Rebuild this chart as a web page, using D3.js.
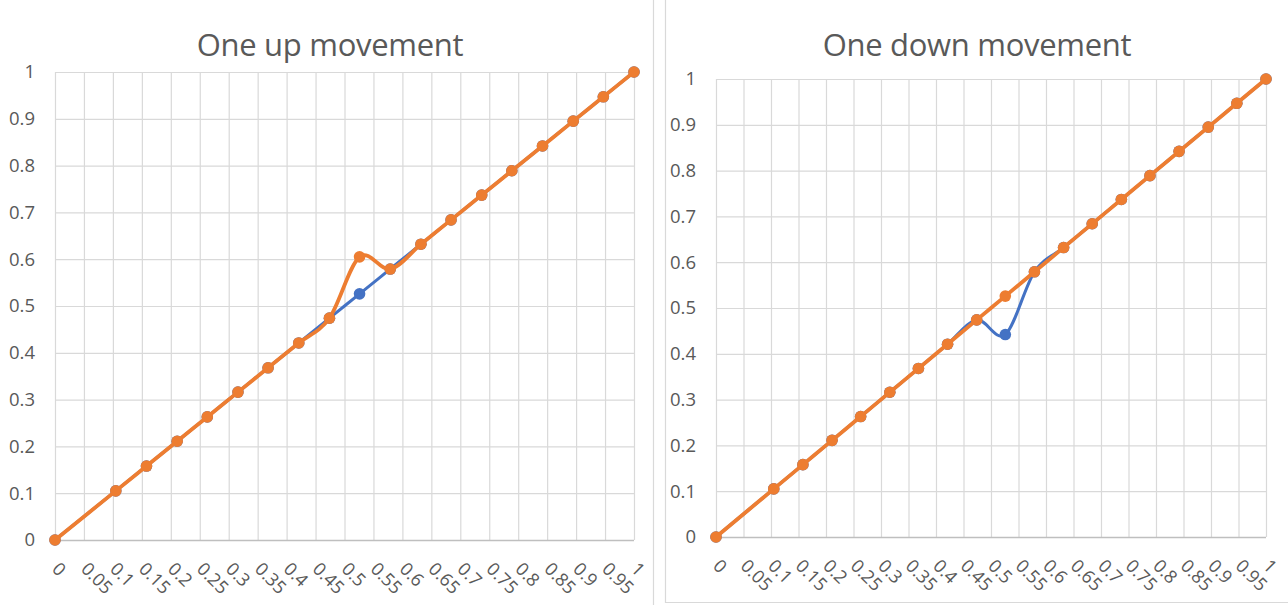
<!DOCTYPE html>
<html>
<head>
<meta charset="utf-8">
<script src="https://cdn.jsdelivr.net/npm/d3@7/dist/d3.min.js"></script>
<style>
  html, body { margin: 0; padding: 0; background: #fff; }
  svg { display: block; }
  text { font-family: "Open Sans", "Noto Sans", sans-serif; fill: #595959; }
</style>
</head>
<body>
<svg id="chart" width="1288" height="605"></svg>
<script>
// Shared x positions of the points (fractions of the interval)
const xValues = [0, 0.105, 0.158, 0.211, 0.263, 0.316, 0.368, 0.421, 0.474, 0.526,
                 0.579, 0.632, 0.684, 0.737, 0.789, 0.842, 0.895, 0.947, 1];

// "One up movement": blue is the unchanged path, orange has one step up
const upBlue   = [0, 0.105, 0.158, 0.211, 0.263, 0.316, 0.368, 0.421, 0.474, 0.526,
                  0.579, 0.632, 0.684, 0.737, 0.789, 0.842, 0.895, 0.947, 1];
const upOrange = [0, 0.105, 0.158, 0.211, 0.263, 0.316, 0.368, 0.421, 0.474, 0.605,
                  0.579, 0.632, 0.684, 0.737, 0.789, 0.842, 0.895, 0.947, 1];

// "One down movement": blue has one step down, orange is unchanged
const downBlue   = [0, 0.105, 0.158, 0.211, 0.263, 0.316, 0.368, 0.421, 0.474, 0.442,
                    0.579, 0.632, 0.684, 0.737, 0.789, 0.842, 0.895, 0.947, 1];
const downOrange = [0, 0.105, 0.158, 0.211, 0.263, 0.316, 0.368, 0.421, 0.474, 0.526,
                    0.579, 0.632, 0.684, 0.737, 0.789, 0.842, 0.895, 0.947, 1];

// Axis tick values and labels
const xTicks = [0, 0.05, 0.1, 0.15, 0.2, 0.25, 0.3, 0.35, 0.4, 0.45, 0.5,
                0.55, 0.6, 0.65, 0.7, 0.75, 0.8, 0.85, 0.9, 0.95, 1];
const xTickLabels = ["0", "0.05", "0.1", "0.15", "0.2", "0.25", "0.3", "0.35", "0.4", "0.45", "0.5",
                     "0.55", "0.6", "0.65", "0.7", "0.75", "0.8", "0.85", "0.9", "0.95", "1"];
const yTicks = [0, 0.1, 0.2, 0.3, 0.4, 0.5, 0.6, 0.7, 0.8, 0.9, 1];
const yTickLabels = ["0", "0.1", "0.2", "0.3", "0.4", "0.5", "0.6", "0.7", "0.8", "0.9", "1"];

const titles = ["One up movement", "One down movement"];

const BLUE = "#4472C4";
const ORANGE = "#ED7D31";
const GRID = "#d9d9d9";

const svg = d3.select("#chart");

// Panel frames
svg.append("line").attr("x1", 653.5).attr("x2", 653.5).attr("y1", 0).attr("y2", 605)
  .attr("stroke", GRID).attr("stroke-width", 1.2);
svg.append("path").attr("d", "M665.5,0 V602.5 H1288")
  .attr("fill", "none").attr("stroke", GRID).attr("stroke-width", 1.2);

const panels = [
  { title: titles[0], titleX: 330, xr: [55, 634], yr: [540, 72],
    series: [{ v: upBlue, c: BLUE, w: 3 }, { v: upOrange, c: ORANGE, w: 3.8 }] },
  { title: titles[1], titleX: 977, xr: [716, 1266], yr: [537, 79],
    series: [{ v: downBlue, c: BLUE, w: 3 }, { v: downOrange, c: ORANGE, w: 3.8 }] }
];

panels.forEach(p => {
  const x = d3.scaleLinear().domain([0, 1]).range(p.xr);
  const y = d3.scaleLinear().domain([0, 1]).range(p.yr);
  const g = svg.append("g");

  // Title
  g.append("text")
    .attr("x", p.titleX).attr("y", 56)
    .attr("text-anchor", "middle")
    .style("font-size", "31px")
    .style("font-weight", 400)
    .style("letter-spacing", "-0.3px")
    .text(p.title);

  // Vertical gridlines
  g.append("g")
    .attr("transform", `translate(0,${p.yr[0]})`)
    .call(d3.axisBottom(x).tickValues(xTicks).tickSize(-(p.yr[0] - p.yr[1])).tickFormat(""))
    .call(a => a.select(".domain").remove())
    .call(a => a.selectAll(".tick line").attr("stroke", GRID).attr("stroke-width", 1.2));

  // Horizontal gridlines and y labels
  g.append("g")
    .attr("transform", `translate(${p.xr[0]},0)`)
    .call(d3.axisLeft(y).tickValues(yTicks).tickSize(-(p.xr[1] - p.xr[0]))
      .tickFormat((d, i) => yTickLabels[i]).tickPadding(20))
    .call(a => a.select(".domain").remove())
    .call(a => a.selectAll(".tick line")
      .attr("stroke", d => d === 0 ? "#bfbfbf" : GRID).attr("stroke-width", d => d === 0 ? 1.5 : 1.2))
    .call(a => a.selectAll(".tick text")
      .style("font-size", "18.5px").style("font-family", "Open Sans, sans-serif").attr("fill", "#595959"));

  // Rotated x labels
  g.append("g").selectAll("text")
    .data(xTicks)
    .join("text")
    .attr("transform", d => `translate(${x(d) - 4},${p.yr[0] + 30}) rotate(45)`)
    .attr("text-anchor", "start")
    .style("font-size", "18px")
    .text((d, i) => xTickLabels[i]);

  // Smoothed series lines with markers
  const line = d3.line()
    .x((d, i) => x(xValues[i]))
    .y(d => y(d))
    .curve(d3.curveCardinal.tension(0));

  p.series.forEach(s => {
    g.append("path")
      .datum(s.v)
      .attr("fill", "none")
      .attr("stroke", s.c)
      .attr("stroke-width", s.w)
      .attr("stroke-linejoin", "round")
      .attr("d", line);
    g.append("g").selectAll("circle")
      .data(s.v)
      .join("circle")
      .attr("cx", (d, i) => x(xValues[i]))
      .attr("cy", d => y(d))
      .attr("r", 5.8)
      .attr("fill", s.c);
  });
});
</script>
</body>
</html>
